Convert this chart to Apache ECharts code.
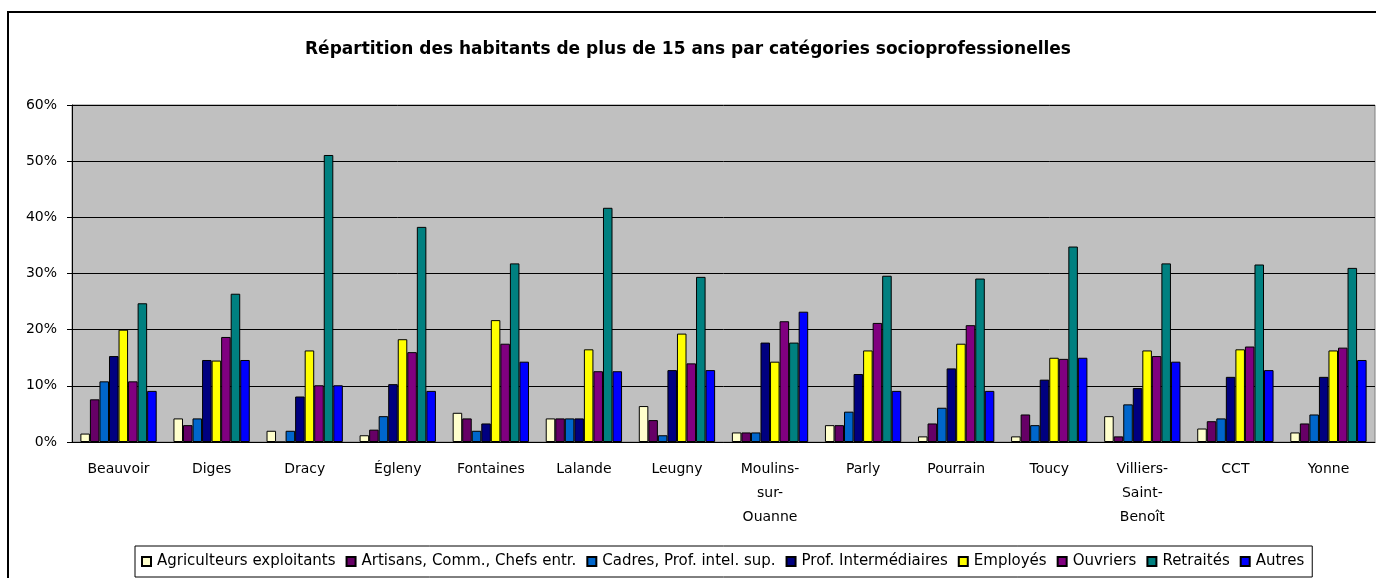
<!DOCTYPE html>
<html>
<head>
    <meta charset="utf-8">
    <title>Catégories socioprofessionnelles</title>
    <script src="https://cdn.jsdelivr.net/npm/echarts@6/dist/echarts.min.js"></script>
    <style>
        body { margin: 0; background: #fff; }
        #chart { width: 1376px; height: 578px; }
    </style>
</head>
<body>
    <div id="chart"></div>

    <script>
        // communes
        var communes = ['Beauvoir', 'Diges', 'Dracy', 'Égleny', 'Fontaines', 'Lalande', 'Leugny',
            'Moulins-\nsur-\nOuanne', 'Parly', 'Pourrain', 'Toucy', 'Villiers-\nSaint-\nBenoît', 'CCT', 'Yonne'];

        // valeurs en %
        var agriculteurs  = [1.5, 4.2, 2.0, 1.2, 5.2, 4.2, 6.4, 1.7, 3.0, 1.0, 1.0, 4.6, 2.4, 1.7];
        var artisans      = [7.6, 3.0, 0, 2.2, 4.2, 4.2, 3.9, 1.7, 3.0, 3.3, 4.9, 1.0, 3.7, 3.3];
        var cadres        = [10.8, 4.2, 2.0, 4.6, 2.0, 4.2, 1.2, 1.7, 5.4, 6.1, 3.0, 6.7, 4.2, 4.9];
        var profInter     = [15.3, 14.6, 8.1, 10.3, 3.3, 4.2, 12.8, 17.7, 12.1, 13.1, 11.1, 9.6, 11.6, 11.6];
        var employes      = [20.0, 14.5, 16.3, 18.3, 21.7, 16.5, 19.3, 14.3, 16.3, 17.5, 15.0, 16.3, 16.5, 16.3];
        var ouvriers      = [10.8, 18.7, 10.1, 16.0, 17.5, 12.6, 14.0, 21.5, 21.2, 20.8, 14.8, 15.3, 17.0, 16.8];
        var retraites     = [24.7, 26.4, 51.1, 38.3, 31.8, 41.7, 29.4, 17.7, 29.6, 29.1, 34.8, 31.8, 31.6, 31.0];
        var autres        = [9.1, 14.6, 10.1, 9.1, 14.3, 12.6, 12.8, 23.2, 9.1, 9.1, 15.0, 14.3, 12.8, 14.6];

        var noms = ['Agriculteurs exploitants', 'Artisans, Comm., Chefs entr.', 'Cadres, Prof. intel. sup.',
            'Prof. Intermédiaires', 'Employés', 'Ouvriers', 'Retraités', 'Autres'];
        var couleurs = ['#FFFFCC', '#660066', '#0066CC', '#000080', '#FFFF00', '#800080', '#008080', '#0000FF'];
        var valeurs = [agriculteurs, artisans, cadres, profInter, employes, ouvriers, retraites, autres];

        var police = 'DejaVu Sans, Arial, sans-serif';

        var series = noms.map(function (nom, i) {
            return {
                name: nom,
                type: 'bar',
                barGap: '0%',
                barCategoryGap: '18%',
                data: valeurs[i],
                itemStyle: { color: couleurs[i], borderColor: '#000', borderWidth: 1 }
            };
        });

        var chart = echarts.init(document.getElementById('chart'));
        chart.setOption({
            animation: false,
            textStyle: { fontFamily: police },
            title: {
                text: 'Répartition des habitants de plus de 15 ans par catégories socioprofessionelles',
                left: 'center',
                top: 36,
                textStyle: { fontFamily: police, fontSize: 17, fontWeight: 'bold', color: '#000' }
            },
            // cadre extérieur du graphique
            graphic: [{
                type: 'rect',
                shape: { x: 8, y: 12, width: 1380, height: 580 },
                style: { fill: 'none', stroke: '#000', lineWidth: 2 },
                silent: true
            }],
            legend: {
                data: noms,
                left: 135,
                top: 546,
                itemWidth: 9,
                itemHeight: 9,
                itemGap: 10,
                padding: [8, 8, 8, 6],
                borderColor: '#000',
                borderWidth: 1,
                icon: 'rect',
                textStyle: { fontFamily: police, fontSize: 15, color: '#000', padding: [0, 0, 0, 1] }
            },
            grid: {
                left: 72,
                right: 1,
                top: 105,
                bottom: 136,
                show: true,
                backgroundColor: '#C0C0C0',
                borderColor: '#808080',
                borderWidth: 1
            },
            xAxis: {
                type: 'category',
                data: communes,
                axisLine: { lineStyle: { color: '#000', width: 1 } },
                axisTick: { length: 5, lineStyle: { color: '#000' } },
                axisLabel: {
                    interval: 0,
                    margin: 15,
                    fontFamily: police,
                    fontSize: 14,
                    lineHeight: 24,
                    color: '#000'
                }
            },
            yAxis: {
                type: 'value',
                min: 0,
                max: 60,
                interval: 10,
                axisLine: { show: true, lineStyle: { color: '#000', width: 1 } },
                axisTick: { show: true, length: 5, lineStyle: { color: '#000' } },
                axisLabel: {
                    formatter: '{value}%',
                    margin: 15,
                    fontFamily: police,
                    fontSize: 14,
                    color: '#000'
                },
                splitLine: { lineStyle: { color: '#000', width: 1 } }
            },
            series: series
        });
    </script>
</body>
</html>
